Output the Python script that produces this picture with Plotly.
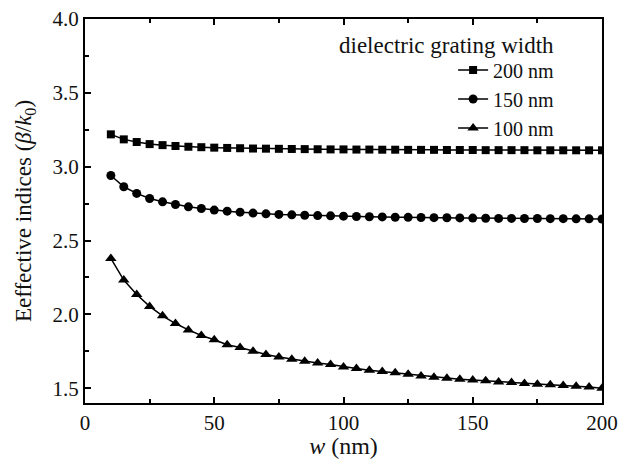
import plotly.graph_objects as go

w = list(range(10, 201, 5))

n_200 = [3.219, 3.185, 3.167, 3.153, 3.146, 3.140, 3.135, 3.132, 3.129, 3.127,
         3.125, 3.123, 3.122, 3.121, 3.120, 3.119, 3.118, 3.117, 3.117, 3.116,
         3.116, 3.115, 3.115, 3.114, 3.114, 3.114, 3.113, 3.113, 3.113, 3.112,
         3.112, 3.112, 3.112, 3.111, 3.111, 3.111, 3.111, 3.111, 3.111]

n_150 = [2.940, 2.864, 2.819, 2.785, 2.762, 2.744, 2.728, 2.717, 2.706, 2.699,
         2.692, 2.686, 2.681, 2.677, 2.674, 2.671, 2.669, 2.667, 2.665, 2.663,
         2.661, 2.660, 2.658, 2.657, 2.656, 2.655, 2.654, 2.653, 2.652, 2.651,
         2.650, 2.650, 2.649, 2.649, 2.648, 2.648, 2.647, 2.647, 2.646]

n_100 = [2.379, 2.232, 2.135, 2.054, 1.990, 1.938, 1.895, 1.857, 1.828, 1.794,
         1.776, 1.751, 1.728, 1.712, 1.697, 1.683, 1.671, 1.660, 1.644, 1.633,
         1.622, 1.613, 1.604, 1.595, 1.583, 1.575, 1.568, 1.561, 1.556, 1.550,
         1.543, 1.539, 1.532, 1.527, 1.523, 1.518, 1.514, 1.509, 1.500]

series_names = ["200 nm", "150 nm", "100 nm"]
symbols = ["square", "circle", "triangle-up"]
legend_title = "dielectric grating width"

FONT = "Times New Roman, Liberation Serif, DejaVu Serif, serif"
TXT = "#111"

fig = go.Figure()
for name, vals, sym, sz in zip(series_names, [n_200, n_150, n_100], symbols, [8, 9, 10]):
    fig.add_trace(go.Scatter(
        x=w, y=vals, mode="lines+markers", name=name,
        line=dict(color="black", width=1.5),
        marker=dict(symbol=sym, size=sz, color="black"),
    ))

axis_common = dict(
    showline=True, linecolor="black", linewidth=2,
    ticks="inside", ticklen=6, tickwidth=2, tickcolor="black",
    showgrid=False, zeroline=False, automargin=False,
    ticklabeloverflow="allow",
    tickfont=dict(family=FONT, size=21, color=TXT),
)

fig.update_xaxes(
    range=[0, 200], tickvals=[0, 50, 100, 150, 200], mirror="ticks",
    minor=dict(ticks="inside", ticklen=4, tickwidth=2, dtick=25, tick0=0, tickcolor="black"),
    title=dict(text="<i>w</i> (nm)", font=dict(family=FONT, size=24, color=TXT), standoff=0),
    **axis_common,
)
fig.update_yaxes(
    range=[1.4, 4.0], tickvals=[1.5, 2.0, 2.5, 3.0, 3.5, 4.0], ticktext=["1.5", "2.0", "2.5", "3.0", "3.5", "4.0"],
    mirror=True,
    minor=dict(ticks="inside", ticklen=4, tickwidth=2, dtick=0.25, tick0=1.5, tickcolor="black"),
    title=dict(text="Eeffective indices (<i>β</i>/<i>k</i><sub>0</sub>)", font=dict(family=FONT, size=23, color=TXT), standoff=14),
    **axis_common,
)

fig.add_annotation(
    text=legend_title, xref="paper", yref="paper", x=0.911, y=0.932,
    xanchor="right", yanchor="middle", showarrow=False,
    font=dict(family=FONT, size=23, color=TXT),
)

# the page body adds an 8px offset, so the figure is sized to fit the 630x459 window
fig.update_layout(
    width=622, height=451,
    margin=dict(l=77, r=28, t=11, b=56),
    font=dict(family=FONT, color=TXT),
    paper_bgcolor="white", plot_bgcolor="white",
    showlegend=True,
    legend=dict(x=0.712, y=0.918, xanchor="left", yanchor="top",
                bgcolor="rgba(0,0,0,0)", font=dict(family=FONT, size=20, color=TXT),
                itemwidth=30, tracegroupgap=0),
)

fig.write_html("out.html")
